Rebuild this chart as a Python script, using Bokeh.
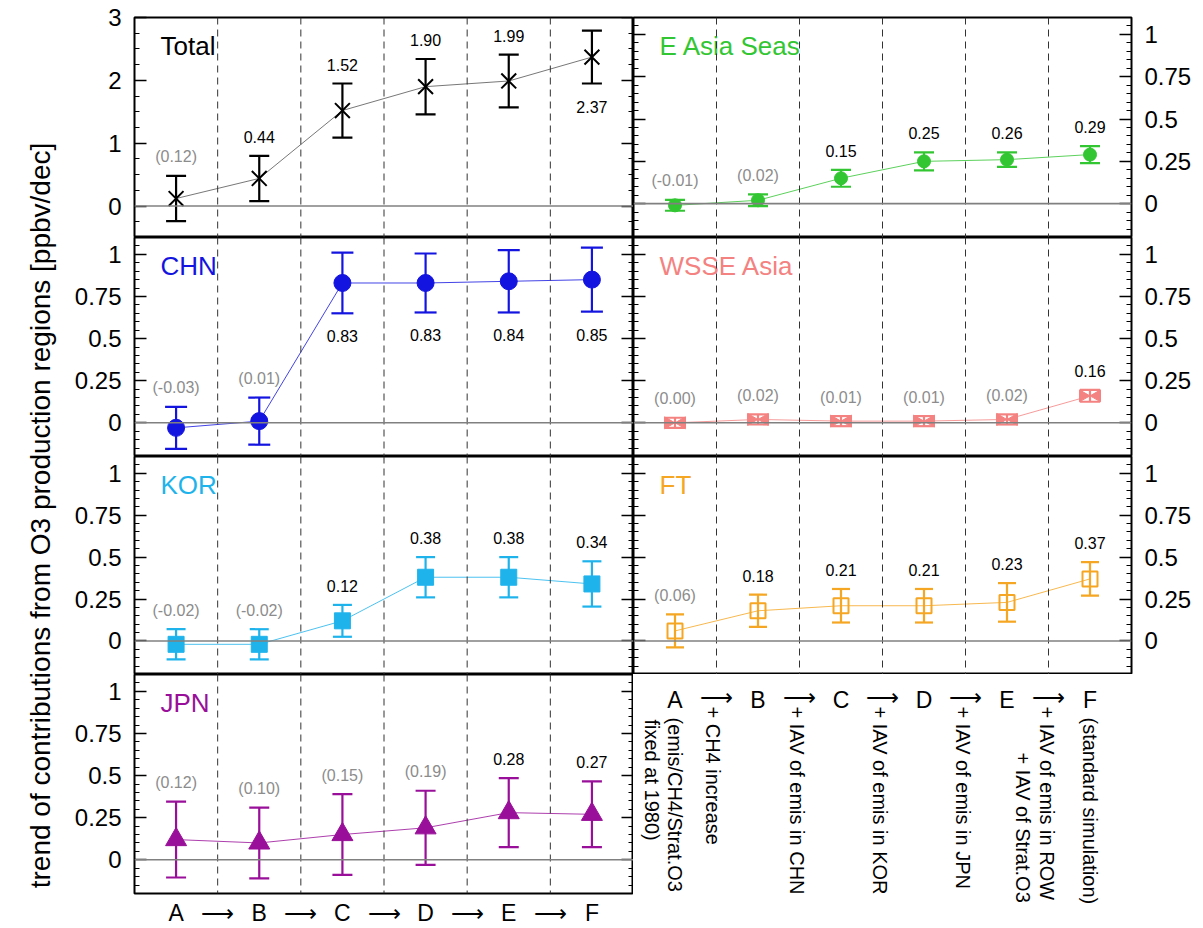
import numpy as np
from bokeh.plotting import figure
from bokeh.models import (ColumnDataSource, Range1d, Span, Whisker, TeeHead, LinearAxis,
                          FixedTicker)
from bokeh.layouts import row, column
from bokeh.embed import file_html
from bokeh.resources import INLINE
from bokeh.core.properties import value
from bokeh.transform import dodge

FONT = "Liberation Sans"

# ---------------- data ----------------
steps = ["A", "B", "C", "D", "E", "F"]

total_val = [0.12, 0.44, 1.52, 1.90, 1.99, 2.37]
total_err = [0.36, 0.36, 0.43, 0.44, 0.42, 0.42]
total_lbl = ["(0.12)", "0.44", "1.52", "1.90", "1.99", "2.37"]
total_pos = ["above", "above", "above", "above", "above", "below"]

chn_val = [-0.03, 0.01, 0.83, 0.83, 0.84, 0.85]
chn_err = [0.125, 0.14, 0.18, 0.175, 0.185, 0.19]
chn_lbl = ["(-0.03)", "(0.01)", "0.83", "0.83", "0.84", "0.85"]
chn_pos = ["above", "above", "below", "below", "below", "below"]

kor_val = [-0.02, -0.02, 0.12, 0.38, 0.38, 0.34]
kor_err = [0.09, 0.09, 0.095, 0.12, 0.12, 0.135]
kor_lbl = ["(-0.02)", "(-0.02)", "0.12", "0.38", "0.38", "0.34"]
kor_pos = ["above"] * 6

jpn_val = [0.12, 0.10, 0.15, 0.19, 0.28, 0.27]
jpn_err = [0.225, 0.21, 0.24, 0.22, 0.205, 0.195]
jpn_lbl = ["(0.12)", "(0.10)", "(0.15)", "(0.19)", "0.28", "0.27"]
jpn_pos = ["above"] * 6

eas_val = [-0.01, 0.02, 0.15, 0.25, 0.26, 0.29]
eas_err = [0.032, 0.035, 0.05, 0.053, 0.043, 0.05]
eas_lbl = ["(-0.01)", "(0.02)", "0.15", "0.25", "0.26", "0.29"]
eas_pos = ["above"] * 6

wsse_val = [0.00, 0.02, 0.01, 0.01, 0.02, 0.16]
wsse_err = [0.03, 0.03, 0.03, 0.03, 0.03, 0.035]
wsse_lbl = ["(0.00)", "(0.02)", "(0.01)", "(0.01)", "(0.02)", "0.16"]
wsse_pos = ["above"] * 6

ft_val = [0.06, 0.18, 0.21, 0.21, 0.23, 0.37]
ft_err = [0.098, 0.096, 0.10, 0.10, 0.115, 0.10]
ft_lbl = ["(0.06)", "0.18", "0.21", "0.21", "0.23", "0.37"]
ft_pos = ["above"] * 6

yticks_total = [0, 1, 2, 3]
ylabels_total = ["0", "1", "2", "3"]
yticks_small = [0, 0.25, 0.5, 0.75, 1]
ylabels_small = ["0", "0.25", "0.5", "0.75", "1"]

desc_text = ["(emis/CH4/Strat.O3", "fixed at 1980)", "+ CH4 increase",
             "+ IAV of emis in CHN", "+ IAV of emis in KOR", "+ IAV of emis in JPN",
             "+ IAV of emis in ROW", "+ IAV of Strat.O3", "(standard simulation)"]
desc_x = [0.5, 0.5, 1, 2, 3, 4, 5, 5, 5.5]

ytitle = "trend of contributions from O3 production regions [ppbv/dec]"

# ---------------- layout constants ----------------
FW_L, FW_R = 499, 498
TOP = 17
FH = [220, 219, 218, 219]
LEFT_B = 66
RIGHT_B = 62
TITLE_W = 68
PAGE_H = 927
BOTTOM_B = PAGE_H - (TOP + sum(FH))

xs = np.arange(len(steps)) + 0.5
bounds = list(range(1, len(steps)))
minor_total = list(np.round(np.arange(-0.5, 3.001, 0.25), 3))
minor_small = list(np.round(np.arange(-0.2, 1.101, 0.05), 3))


def style_axis(ax, labels=True):
    ax.major_tick_in = 12
    ax.major_tick_out = 0
    ax.minor_tick_in = 5
    ax.minor_tick_out = 0
    ax.major_tick_line_width = 1.5
    ax.minor_tick_line_width = 1
    ax.major_tick_line_color = "black"
    ax.minor_tick_line_color = "black"
    ax.axis_line_color = None
    ax.major_label_text_font = FONT
    ax.major_label_text_font_size = "24px"
    ax.major_label_text_color = "black"
    ax.major_label_standoff = 13
    if not labels:
        ax.major_label_text_alpha = 0
        ax.major_label_text_font_size = "0px"


def make_panel(side, fh, top, big, name, color, vals, errs, lbls, pos, marker, cap,
               bottom_axis=False):
    if big:
        yr, ytk, ylb, mnr = (-0.5, 3.0), yticks_total, ylabels_total, minor_total
    else:
        yr, ytk, ylb, mnr = (-0.2, 1.1), yticks_small, ylabels_small, minor_small
    p = figure(frame_width=FW_L if side == "left" else FW_R, frame_height=fh,
               x_range=Range1d(0, len(steps)), y_range=Range1d(*yr),
               toolbar_location=None, output_backend="svg", title=None,
               min_border=0, x_axis_location="below" if bottom_axis else None,
               y_axis_location=side, background_fill_color="white",
               border_fill_color="white")
    p.min_border_top = top
    if side == "left":
        p.min_border_left = LEFT_B
    else:
        p.min_border_right = RIGHT_B
    if bottom_axis:
        p.min_border_bottom = BOTTOM_B
    p.grid.visible = False
    p.outline_line_color = "black"
    p.outline_line_width = 2

    ax = p.yaxis[0]
    ax.ticker = FixedTicker(ticks=ytk, minor_ticks=mnr)
    ax.major_label_overrides = {t: l for t, l in zip(ytk, ylb)}
    style_axis(ax)
    ax2 = LinearAxis(ticker=FixedTicker(ticks=ytk, minor_ticks=mnr),
                     fixed_location=(len(steps) if side == "left" else 0))
    style_axis(ax2, labels=False)
    p.add_layout(ax2, "right" if side == "left" else "left")

    if bottom_axis:
        xa = p.xaxis[0]
        tpos, ttxt = [], {}
        for i, s in enumerate(steps):
            tpos.append(i + 0.5)
            ttxt[i + 0.5] = s
            if i < len(steps) - 1:
                tpos.append(float(i + 1))
                ttxt[float(i + 1)] = "\u27f6"
        xa.ticker = FixedTicker(ticks=tpos, minor_ticks=[])
        xa.major_label_overrides = ttxt
        xa.major_tick_in = 0
        xa.major_tick_out = 0
        xa.minor_tick_in = 0
        xa.minor_tick_out = 0
        xa.axis_line_color = None
        xa.major_label_text_font = FONT
        xa.major_label_text_font_size = "23px"
        xa.major_label_text_color = "black"
        xa.major_label_standoff = 6

    for b in bounds:
        p.add_layout(Span(location=b, dimension="height", line_color="#333333",
                          line_width=1, line_dash="7 5"))
    p.add_layout(Span(location=0, dimension="width", line_color="#808080", line_width=1.6))

    v = np.array(vals, dtype=float)
    e = np.array(errs, dtype=float)
    up, lo = v + e, v - e
    above = np.array([q == "above" for q in pos])
    src = ColumnDataSource(dict(
        x=xs, y=v, upper=up, lower=lo, lbl=lbls,
        ly=np.where(above, up, lo),
        loff=np.where(above, -19, 23),
        lc=["#8c8c8c" if s.startswith("(") else "black" for s in lbls]))

    p.line("x", "y", source=src, line_color=("#555555" if color == "black" else color),
           line_width=1, line_alpha=0.8)
    p.add_layout(Whisker(source=src, base="x", upper="upper", lower="lower",
                         line_color=color, line_width=2.2,
                         upper_head=TeeHead(size=cap, line_color=color, line_width=2.2),
                         lower_head=TeeHead(size=cap, line_color=color, line_width=2.2)))

    if marker == "x":
        p.scatter("x", "y", source=src, marker="x", size=21, line_color=color, line_width=2)
    elif marker == "circle":
        p.scatter("x", "y", source=src, marker="circle", size=17, fill_color=color,
                  line_color=color)
    elif marker == "smallcircle":
        p.scatter("x", "y", source=src, marker="circle", size=13, fill_color=color,
                  line_color=color)
    elif marker == "square":
        p.scatter("x", "y", source=src, marker="square", size=16, fill_color=color,
                  line_color=color)
    elif marker == "triangle":
        p.scatter("x", "y", source=src, marker="triangle", size=21, fill_color=color,
                  line_color=color)
    elif marker == "bowtie":
        p.scatter(dodge("x", -0.085, range=p.x_range), "y", source=src, marker="triangle",
                  angle=-np.pi / 2, size=12, fill_color=color, line_color=color)
        p.scatter(dodge("x", 0.085, range=p.x_range), "y", source=src, marker="triangle",
                  angle=np.pi / 2, size=12, fill_color=color, line_color=color)
    elif marker == "opensquare":
        p.scatter("x", "y", source=src, marker="square", size=15, fill_color=None,
                  line_color=color, line_width=2)

    p.text("x", "ly", text="lbl", source=src, text_color="lc", y_offset="loff",
           text_align="center", text_baseline="middle", text_font=value(FONT),
           text_font_size="16px")

    # panel name, anchored at the top-left corner of the frame
    p.text(x=[yr[0] * 0], y=[yr[1]], text=[name], x_offset=26, y_offset=28,
           text_color=color, text_font=value(FONT), text_font_size="26px",
           text_baseline="middle", text_align="left")
    return p


# ---------------- left column ----------------
p_tot = make_panel("left", FH[0], TOP, True, "Total", "black", total_val, total_err,
                   total_lbl, total_pos, "x", 20)
p_chn = make_panel("left", FH[1], 0, False, "CHN", "#1414e0", chn_val, chn_err,
                   chn_lbl, chn_pos, "circle", 22)
p_kor = make_panel("left", FH[2], 0, False, "KOR", "#1fb3ec", kor_val, kor_err,
                   kor_lbl, kor_pos, "square", 19)
p_jpn = make_panel("left", FH[3], 0, False, "JPN", "#990f99", jpn_val, jpn_err,
                   jpn_lbl, jpn_pos, "triangle", 20, bottom_axis=True)

# ---------------- right column ----------------
p_eas = make_panel("right", FH[0], TOP, False, "E Asia Seas", "#33c633", eas_val, eas_err,
                   eas_lbl, eas_pos, "smallcircle", 20)
p_wsse = make_panel("right", FH[1], 0, False, "WSSE Asia", "#f48281", wsse_val, wsse_err,
                    wsse_lbl, wsse_pos, "bowtie", 20)
p_ft = make_panel("right", FH[2], 0, False, "FT", "#f5a623", ft_val, ft_err,
                  ft_lbl, ft_pos, "opensquare", 18)

desc_h = PAGE_H - (TOP + FH[0] + FH[1] + FH[2])
desc = figure(frame_width=FW_R, frame_height=desc_h, x_range=Range1d(0, len(steps)),
              y_range=Range1d(desc_h, 0), toolbar_location=None, output_backend="svg",
              title=None, min_border=0, x_axis_location=None, y_axis_location=None,
              outline_line_color=None)
desc.grid.visible = False
desc.text(x=list(xs), y=[25] * len(steps), text=steps, text_align="center",
          text_baseline="middle", text_font=value(FONT), text_font_size="23px",
          text_color="black")
desc.text(x=bounds, y=[22] * len(bounds), text=["\u27f6"] * len(bounds),
          text_align="center", text_baseline="middle", text_font=value(FONT),
          text_font_size="23px", text_color="black")
desc_src = ColumnDataSource(dict(x=desc_x, y=[43, 45, 32, 32, 32, 32, 32, 78, 43],
                                 dx=[0, -23, -4, -3, -3, -3, -2, -26, 0], t=desc_text))
desc.text("x", "y", text="t", x_offset="dx", source=desc_src, angle=-np.pi / 2,
          text_align="left", text_baseline="middle", text_font=value(FONT),
          text_font_size="20px", text_color="black")

# ---------------- y title ----------------
tfig = figure(frame_width=TITLE_W, frame_height=PAGE_H, x_range=Range1d(0, TITLE_W),
              y_range=Range1d(PAGE_H, 0), toolbar_location=None, output_backend="svg",
              title=None, min_border=0, x_axis_location=None, y_axis_location=None,
              outline_line_color=None)
tfig.grid.visible = False
tfig.text(x=[40], y=[515], text=[ytitle], angle=np.pi / 2, text_align="center",
          text_baseline="middle", text_font=value(FONT), text_font_size="28px",
          text_color="black")

layout = row(tfig, column(p_tot, p_chn, p_kor, p_jpn), column(p_eas, p_wsse, p_ft, desc))

open("out.html", "w").write(file_html(layout, INLINE))
